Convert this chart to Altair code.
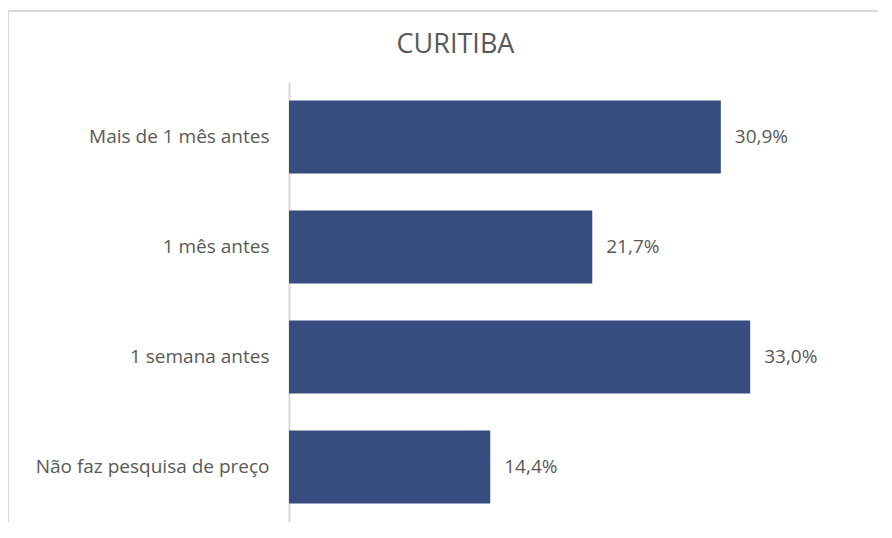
import altair as alt
import pandas as pd

categories = ["Mais de 1 mês antes", "1 mês antes", "1 semana antes", "Não faz pesquisa de preço"]
values = [30.9, 21.7, 33.0, 14.4]
title_text = "CURITIBA"

df = pd.DataFrame({"cat": categories, "val": values})
df["label"] = [f"{v:.1f}".replace(".", ",") + "%" for v in values]

FONT = "Open Sans"
GREY = "#595959"
BAR = "#374D80"

x = alt.X("val:Q", scale=alt.Scale(domain=[0, 40]), axis=None)
y = alt.Y("cat:N", sort=categories,
          scale=alt.Scale(paddingInner=0.336, paddingOuter=0.168),
          axis=alt.Axis(title=None, ticks=False, labelPadding=20, labelFont=FONT,
                        labelFontSize=19, labelColor=GREY, domainColor="#d9d9d9",
                        domainWidth=2, labelLimit=400))

bars = alt.Chart(df).mark_bar(color=BAR).encode(x=x, y=y)
texts = alt.Chart(df).mark_text(align="left", baseline="middle", dx=14, font=FONT,
                                fontSize=19, color=GREY).encode(x=x, y=y, text="label:N")

frame_top = alt.Chart(df.head(1)).mark_rule(color="#d9d9d9", strokeWidth=2).encode(
    x=alt.value(-281), x2=alt.value(600), y=alt.value(-71))
frame_left = alt.Chart(df.head(1)).mark_rule(color="#d9d9d9", strokeWidth=2).encode(
    x=alt.value(-281), y=alt.value(-71), y2=alt.value(460))

chart = alt.layer(frame_top, frame_left, bars, texts).properties(
    width=559, height=440,
    title=alt.TitleParams(title_text, anchor="middle", dx=-113, offset=-49, font=FONT,
                          fontSize=27, fontWeight="normal", color=GREY),
    autosize=alt.AutoSizeParams(type="none"),
    padding={"left": 281, "top": 74, "right": 30, "bottom": 0},
).configure_view(stroke=None)

chart.save("out.html", embed_options={"renderer": "svg", "actions": False})
